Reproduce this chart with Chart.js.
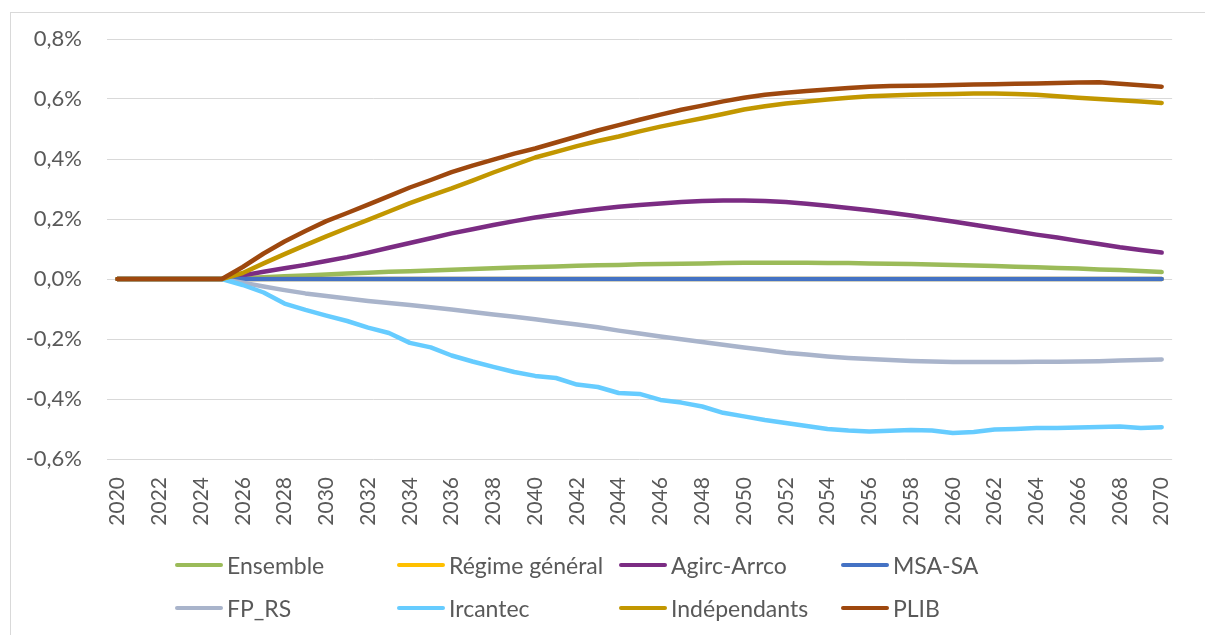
<!DOCTYPE html>
<html>
<head>
<meta charset="utf-8">
<script src="https://cdn.jsdelivr.net/npm/chart.js@4/dist/chart.umd.min.js"></script>
<style>
  html, body { margin: 0; padding: 0; background: #fff; }
  body { width: 1205px; height: 635px; position: relative; overflow: hidden; font-family: Lato, sans-serif; }
  #frame { position: absolute; left: 10px; top: 12px; width: 1300px; height: 700px; border: 1px solid #d9d9d9; }
  #chart { position: absolute; left: 0; top: 0; }
  #legend { position: absolute; left: 175px; top: 543px; display: grid; grid-template-columns: repeat(4, 222px); grid-auto-rows: 43px; }
  .item { display: flex; align-items: center; font-size: 23px; color: #595959; white-space: nowrap; }
  .swatch { display: inline-block; width: 48px; height: 4px; border-radius: 2px; margin-right: 4px; }
</style>
</head>
<body>
<div id="frame"></div>
<canvas id="chart" width="1205" height="635"></canvas>
<div id="legend"></div>
<script>
var years = ['2020','2021','2022','2023','2024','2025','2026','2027','2028','2029','2030','2031','2032','2033','2034','2035','2036','2037','2038','2039','2040','2041','2042','2043','2044','2045','2046','2047','2048','2049','2050','2051','2052','2053','2054','2055','2056','2057','2058','2059','2060','2061','2062','2063','2064','2065','2066','2067','2068','2069','2070'];

var ensemble = [0,0,0,0,0,0,0.003,0.006,0.009,0.012,0.015,0.018,0.021,0.024,0.026,0.028,0.031,0.033,0.036,0.038,0.040,0.042,0.044,0.046,0.047,0.049,0.050,0.051,0.052,0.053,0.054,0.054,0.054,0.054,0.053,0.053,0.052,0.051,0.050,0.048,0.047,0.045,0.043,0.041,0.039,0.037,0.035,0.032,0.030,0.027,0.023];
var regimeGeneral = [0,0,0,0,0,0,0,0,0,0,0,0,0,0,0,0,0,0,0,0,0,0,0,0,0,0,0,0,0,0,0,0,0,0,0,0,0,0,0,0,0,0,0,0,0,0,0,0,0,0,0];
var agircArrco = [0,0,0,0,0,0,0.012,0.024,0.036,0.047,0.060,0.073,0.088,0.104,0.120,0.136,0.152,0.166,0.180,0.193,0.205,0.215,0.225,0.233,0.241,0.247,0.252,0.257,0.260,0.262,0.262,0.260,0.257,0.251,0.244,0.237,0.229,0.221,0.212,0.202,0.192,0.181,0.170,0.159,0.148,0.138,0.127,0.117,0.106,0.097,0.088];
var msaSa = [0,0,0,0,0,0,0,0,0,0,0,0,0,0,0,0,0,0,0,0,0,0,0,0,0,0,0,0,0,0,0,0,0,0,0,0,0,0,0,0,0,0,0,0,0,0,0,0,0,0,0];
var fpRs = [0,0,0,0,0,0,-0.012,-0.025,-0.037,-0.048,-0.057,-0.065,-0.073,-0.080,-0.087,-0.094,-0.102,-0.110,-0.118,-0.126,-0.134,-0.143,-0.152,-0.161,-0.172,-0.182,-0.192,-0.201,-0.210,-0.219,-0.228,-0.237,-0.246,-0.252,-0.258,-0.263,-0.267,-0.270,-0.273,-0.275,-0.277,-0.277,-0.277,-0.277,-0.276,-0.276,-0.275,-0.274,-0.272,-0.270,-0.268];
var ircantec = [0,0,0,0,0,0,-0.020,-0.045,-0.082,-0.103,-0.122,-0.140,-0.162,-0.180,-0.213,-0.228,-0.255,-0.275,-0.293,-0.310,-0.323,-0.330,-0.352,-0.360,-0.380,-0.383,-0.403,-0.412,-0.425,-0.446,-0.458,-0.470,-0.480,-0.490,-0.500,-0.505,-0.508,-0.506,-0.503,-0.505,-0.513,-0.510,-0.502,-0.500,-0.497,-0.497,-0.495,-0.493,-0.492,-0.497,-0.494];
var independants = [0,0,0,0,0,0,0.020,0.052,0.083,0.113,0.142,0.170,0.197,0.225,0.253,0.278,0.302,0.328,0.355,0.380,0.405,0.424,0.443,0.460,0.475,0.492,0.508,0.522,0.536,0.550,0.565,0.576,0.585,0.592,0.598,0.604,0.609,0.612,0.614,0.616,0.617,0.618,0.618,0.617,0.614,0.609,0.604,0.600,0.596,0.592,0.587];
var plib = [0,0,0,0,0,0,0.040,0.085,0.125,0.160,0.193,0.220,0.248,0.276,0.305,0.330,0.356,0.378,0.398,0.418,0.435,0.455,0.475,0.495,0.513,0.531,0.548,0.564,0.578,0.592,0.604,0.614,0.621,0.627,0.632,0.637,0.641,0.643,0.644,0.645,0.647,0.648,0.649,0.651,0.652,0.653,0.655,0.656,0.651,0.646,0.641];

var seriesNames = ['Ensemble', 'Régime général', 'Agirc-Arrco', 'MSA-SA', 'FP_RS', 'Ircantec', 'Indépendants', 'PLIB'];
var seriesData = [ensemble, regimeGeneral, agircArrco, msaSa, fpRs, ircantec, independants, plib];
var seriesColors = ['#9bbb59', '#ffc000', '#7b2c83', '#4472c4', '#a9b4cb', '#66ccff', '#c29700', '#9e480e'];

var textColor = '#595959';

var datasets = seriesNames.map(function (name, i) {
    return {
        label: name,
        data: seriesData[i],
        borderColor: seriesColors[i],
        backgroundColor: seriesColors[i],
        borderWidth: 4.5,
        borderCapStyle: 'round',
        borderJoinStyle: 'round',
        pointRadius: 0,
        tension: 0,
        fill: false,
        // later series on top, like the spreadsheet
        order: seriesNames.length - i
    };
});

var ctx = document.getElementById('chart').getContext('2d');
var myChart = new Chart(ctx, {
    type: 'line',
    data: { labels: years, datasets: datasets },
    options: {
        responsive: false,
        animation: false,
        layout: { padding: { top: 39, right: 12, left: 0, bottom: 0 } },
        plugins: { legend: { display: false }, tooltip: { enabled: false } },
        scales: {
            x: {
                offset: true,
                grid: { display: false, drawTicks: false },
                border: { display: false },
                ticks: {
                    autoSkip: false,
                    minRotation: 90,
                    maxRotation: 90,
                    padding: 18,
                    color: textColor,
                    font: { family: 'Lato', size: 21 },
                    callback: function (value, index) {
                        return index % 2 === 0 ? years[index] : '';
                    }
                },
                afterFit: function (scale) { scale.height = 176; }
            },
            y: {
                min: -0.6,
                max: 0.8,
                grid: { color: '#d9d9d9', lineWidth: 1, drawTicks: false },
                border: { display: false },
                ticks: {
                    stepSize: 0.2,
                    padding: 25,
                    color: textColor,
                    font: { family: 'Lato', size: 22 },
                    callback: function (value) {
                        return value.toFixed(1).replace('.', ',') + '%';
                    }
                },
                afterFit: function (scale) { scale.width = 107; }
            }
        }
    }
});

var legend = document.getElementById('legend');
myChart.data.datasets.forEach(function (ds) {
    var item = document.createElement('div');
    item.className = 'item';
    var sw = document.createElement('span');
    sw.className = 'swatch';
    sw.style.background = ds.borderColor;
    item.appendChild(sw);
    item.appendChild(document.createTextNode(ds.label));
    legend.appendChild(item);
});
</script>
</body>
</html>
